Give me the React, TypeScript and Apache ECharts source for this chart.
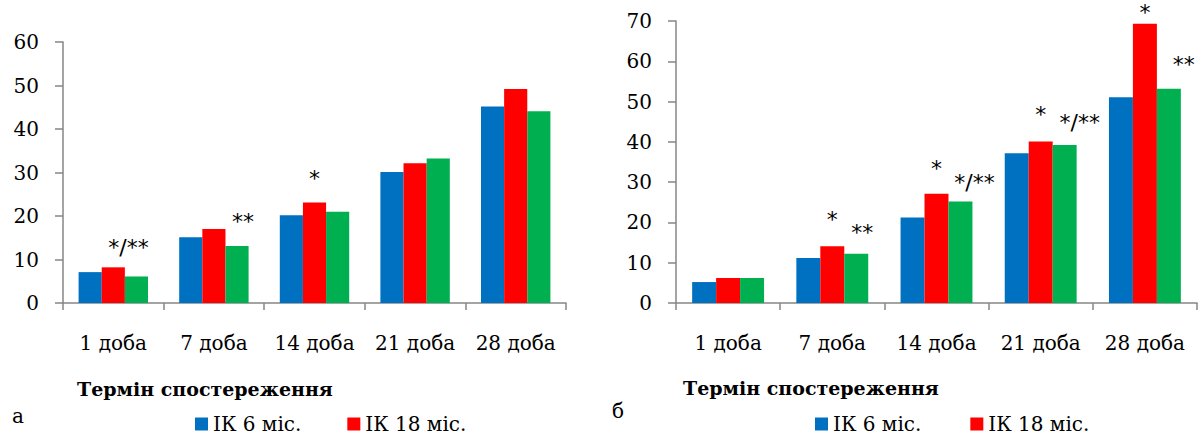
import React, { useEffect, useRef } from "react";
import * as echarts from "echarts";

const categories = ["1 доба", "7 доба", "14 доба", "21 доба", "28 доба"];
const seriesNames = ["ІК 6 міс.", "ІК 18 міс.", "ІК (3)"];

const leftBlue = [7.1, 15.1, 20.2, 30.1, 45.2];
const leftRed = [8.2, 17.0, 23.1, 32.1, 49.2];
const leftGreen = [6.1, 13.1, 21.0, 33.2, 44.1];

const rightBlue = [5.2, 11.2, 21.2, 37.2, 51.1];
const rightRed = [6.2, 14.1, 27.1, 40.1, 69.3];
const rightGreen = [6.2, 12.2, 25.2, 39.2, 53.2];

const leftRedMarks = ["", "", "*", "", ""];
const leftGreenMarks = ["*/**", "**", "", "", ""];
const rightRedMarks = ["", "*", "*", "*", "*"];
const rightGreenMarks = ["", "**", "*/**", "*/**", "**"];

const leftYTicks = { min: 0, max: 60, interval: 10 };
const rightYTicks = { min: 0, max: 70, interval: 10 };

const panelLetters = ["а", "б"];
const axisTitle = "Термін спостереження";

// styling (offsets of significance marks, px)
const leftRedOffsets = [[0, 0], [0, 0], [0, -24], [0, 0], [0, 0]];
const leftGreenOffsets = [[-8, -29], [6, -25], [0, 0], [0, 0], [0, 0]];
const rightRedOffsets = [[0, 0], [0, -27], [0, -25], [0, -27], [0, -11]];
const rightGreenOffsets = [[0, 0], [6, -21], [14, -19], [15, -23], [15, -24]];

const COLORS = ["#0070C0", "#FF0000", "#00B050"];
const AXIS_COLOR = "#868686";
const SERIF = "DejaVu Serif";

function makeData(values: number[], marks: string[], offsets: number[][]) {
  return values.map((v, i) =>
    marks[i]
      ? {
          value: v,
          label: {
            show: true,
            formatter: marks[i],
            offset: offsets[i],
          },
        }
      : v
  );
}

function barSeries(
  idx: number,
  values: number[],
  marks: string[],
  offsets: number[][],
  axisIndex: number
) {
  return {
    type: "bar",
    name: seriesNames[idx],
    xAxisIndex: axisIndex,
    yAxisIndex: axisIndex,
    barGap: "0%",
    barCategoryGap: "31%",
    itemStyle: { color: COLORS[idx] },
    label: {
      show: false,
      position: "top",
      distance: 0,
      verticalAlign: "middle",
      fontFamily: "DejaVu Sans",
      fontSize: 22,
      color: "#000",
    },
    data: makeData(values, marks, offsets),
  };
}

const noMarks = ["", "", "", "", ""];
const zeroOffsets = [[0, 0], [0, 0], [0, 0], [0, 0], [0, 0]];

function xAxis(gridIndex: number) {
  return {
    type: "category",
    gridIndex,
    data: categories,
    axisLine: { show: true, lineStyle: { color: AXIS_COLOR, width: 1.5 } },
    axisTick: { show: true, length: 7, lineStyle: { color: AXIS_COLOR, width: 1.5 } },
    axisLabel: {
      interval: 0,
      margin: 30,
      fontFamily: SERIF,
      fontSize: 20,
      color: "#000",
    },
  };
}

function yAxis(gridIndex: number, t: { min: number; max: number; interval: number }) {
  return {
    type: "value",
    gridIndex,
    min: t.min,
    max: t.max,
    interval: t.interval,
    splitLine: { show: false },
    axisLine: { show: true, lineStyle: { color: AXIS_COLOR, width: 1.5 } },
    axisTick: { show: true, length: 8, lineStyle: { color: AXIS_COLOR, width: 1.5 } },
    axisLabel: {
      margin: 24,
      fontFamily: SERIF,
      fontSize: 20,
      color: "#000",
    },
  };
}

export default function App() {
  const ref = useRef<HTMLDivElement>(null);
  useEffect(() => {
    if (!ref.current) return;
    const chart = echarts.init(ref.current, null, { renderer: "svg" });
    const legendText = { fontFamily: SERIF, fontSize: 20, color: "#000" };
    chart.setOption({
      animation: false,
      backgroundColor: "#fff",
      grid: [
        { left: 63, right: 638, top: 42, bottom: 136 },
        { left: 676, right: 7, top: 21, bottom: 136 },
      ],
      xAxis: [xAxis(0), xAxis(1)],
      yAxis: [yAxis(0, leftYTicks), yAxis(1, rightYTicks)],
      legend: [
        {
          data: [seriesNames[0], seriesNames[1]],
          left: 190,
          top: 409,
          icon: "rect",
          itemWidth: 13,
          itemHeight: 13,
          itemGap: 46,
          textStyle: legendText,
          selectedMode: false,
        },
        {
          data: [seriesNames[0], seriesNames[1]],
          left: 810,
          top: 409,
          icon: "rect",
          itemWidth: 13,
          itemHeight: 13,
          itemGap: 49,
          textStyle: legendText,
          selectedMode: false,
        },
      ],
      graphic: [
        {
          type: "text",
          left: 12,
          top: 406,
          style: { text: panelLetters[0], font: `20px ${SERIF}`, fill: "#000" },
        },
        {
          type: "text",
          left: 612,
          top: 401,
          style: { text: panelLetters[1], font: `20px ${SERIF}`, fill: "#000" },
        },
        {
          type: "text",
          left: 77,
          top: 379,
          style: { text: axisTitle, font: `bold 19px ${SERIF}`, fill: "#000" },
        },
        {
          type: "text",
          left: 683,
          top: 378,
          style: { text: axisTitle, font: `bold 19px ${SERIF}`, fill: "#000" },
        },
      ],
      series: [
        barSeries(0, leftBlue, noMarks, zeroOffsets, 0),
        barSeries(1, leftRed, leftRedMarks, leftRedOffsets, 0),
        barSeries(2, leftGreen, leftGreenMarks, leftGreenOffsets, 0),
        barSeries(0, rightBlue, noMarks, zeroOffsets, 1),
        barSeries(1, rightRed, rightRedMarks, rightRedOffsets, 1),
        barSeries(2, rightGreen, rightGreenMarks, rightGreenOffsets, 1),
      ],
    });
    return () => chart.dispose();
  }, []);
  return (
    <div
      ref={ref}
      style={{ position: "fixed", left: 0, top: 0, width: 1204, height: 439 }}
    />
  );
}
